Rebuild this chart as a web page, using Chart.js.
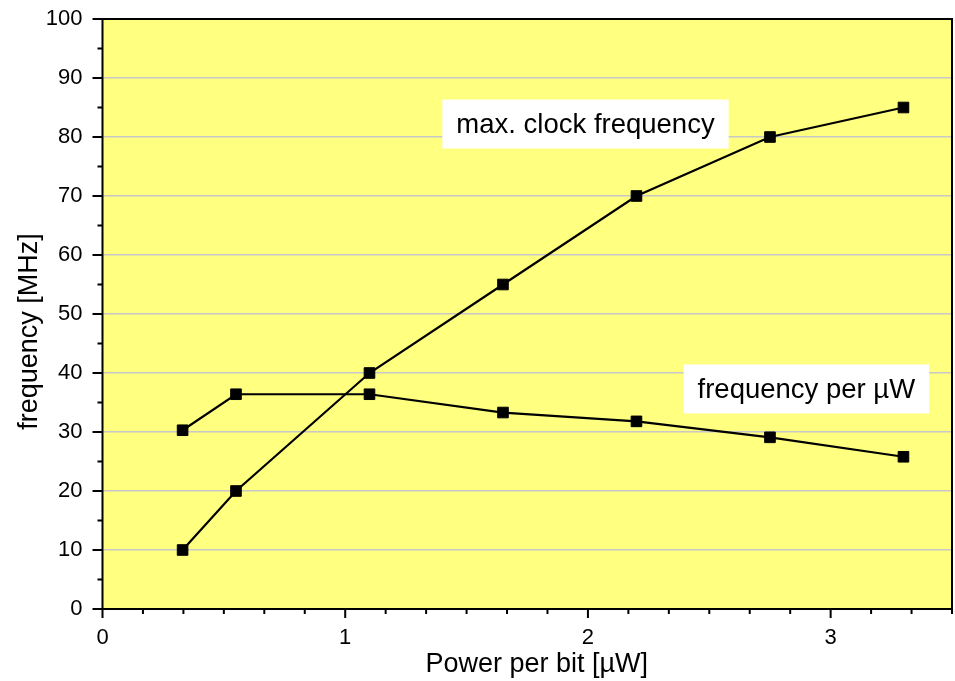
<!DOCTYPE html>
<html>
<head>
<meta charset="utf-8">
<script src="https://cdn.jsdelivr.net/npm/chart.js@4"></script>
<style>
  body { margin: 0; background: #fff; }
  #wrap { width: 955px; height: 681px; }
</style>
</head>
<body>
<div id="wrap"><canvas id="myChart" width="955" height="681"></canvas></div>
<script>
// data
const powerPerBit = [0.33, 0.55, 1.1, 1.65, 2.2, 2.75, 3.3];
const maxClockFreq = [10, 20, 40, 55, 70, 80, 85];
const freqPerMicroW = [30.3, 36.4, 36.4, 33.3, 31.8, 29.1, 25.8];
const xTickLabels = [0, 1, 2, 3];
const yTickLabels = [0, 10, 20, 30, 40, 50, 60, 70, 80, 90, 100];
const xTitle = 'Power per bit [\u00b5W]';
const yTitle = 'frequency [MHz]';

// text boxes, anchored at data coords
const boxLabels = [
  { text: 'max. clock frequency', x: 1.99, y: 82.2 },
  { text: 'frequency per \u00b5W', x: 2.9, y: 37.3 }
];

const FONT = '"Liberation Sans", Arial, sans-serif';

// yellow plot background, frame, ticks, titles and label boxes
const framePlugin = {
  id: 'frame',
  beforeDraw(chart) {
    const { ctx, chartArea: a } = chart;
    ctx.save();
    ctx.fillStyle = '#ffff80';
    ctx.fillRect(a.left, a.top, a.right - a.left, a.bottom - a.top);
    ctx.restore();
  },
  afterDatasetsDraw(chart) {
    const { ctx, scales } = chart;
    ctx.save();
    ctx.font = '27.5px ' + FONT;
    ctx.textAlign = 'center';
    ctx.textBaseline = 'middle';
    boxLabels.forEach(b => {
      const cx = scales.x.getPixelForValue(b.x);
      const cy = scales.y.getPixelForValue(b.y);
      const w = ctx.measureText(b.text).width + 28;
      const h = 49;
      ctx.fillStyle = '#fff';
      ctx.fillRect(cx - w / 2, cy - h / 2, w, h);
      ctx.fillStyle = '#000';
      ctx.fillText(b.text, cx, cy + 1);
    });
    ctx.restore();
  },
  afterDraw(chart) {
    const { ctx, chartArea: a, scales } = chart;
    ctx.save();
    ctx.strokeStyle = '#000';
    ctx.lineWidth = 2;
    ctx.strokeRect(a.left, a.top, a.right - a.left, a.bottom - a.top);
    ctx.beginPath();
    // y ticks, major every 10, minor every 5
    for (let v = 0; v <= 100; v += 5) {
      const py = scales.y.getPixelForValue(v);
      const len = v % 10 === 0 ? 10 : 5;
      ctx.moveTo(a.left - len, py);
      ctx.lineTo(a.left, py);
    }
    // x ticks, major every 1, minor every 1/6
    for (let i = 0; i <= 21; i++) {
      const px = scales.x.getPixelForValue(i / 6);
      const len = i % 6 === 0 ? 9 : 5;
      ctx.moveTo(px, a.bottom);
      ctx.lineTo(px, a.bottom + len);
    }
    ctx.stroke();

    // axis titles (sit a bit off-centre in the original)
    ctx.fillStyle = '#000';
    ctx.font = '27px ' + FONT;
    ctx.textAlign = 'center';
    ctx.textBaseline = 'middle';
    ctx.fillText(xTitle, (a.left + a.right) / 2 + 9.5, 665);
    ctx.translate(30, (a.top + a.bottom) / 2 + 17.5);
    ctx.rotate(-Math.PI / 2);
    ctx.fillText(yTitle, 0, 0);
    ctx.restore();
  }
};

const ctx = document.getElementById('myChart');

new Chart(ctx, {
  type: 'line',
  data: {
    datasets: [
      {
        label: 'max. clock frequency',
        data: powerPerBit.map((x, i) => ({ x: x, y: maxClockFreq[i] })),
        borderColor: '#000',
        backgroundColor: '#000',
        borderWidth: 2.2,
        pointStyle: 'rect',
        pointRadius: 7.5,
        pointBorderWidth: 1,
        tension: 0
      },
      {
        label: 'frequency per \u00b5W',
        data: powerPerBit.map((x, i) => ({ x: x, y: freqPerMicroW[i] })),
        borderColor: '#000',
        backgroundColor: '#000',
        borderWidth: 2.2,
        pointStyle: 'rect',
        pointRadius: 7.5,
        pointBorderWidth: 1,
        tension: 0
      }
    ]
  },
  options: {
    responsive: false,
    animation: false,
    layout: { autoPadding: false, padding: { top: 19, right: 3, left: 0, bottom: 0 } },
    plugins: {
      legend: { display: false },
      tooltip: { enabled: false }
    },
    scales: {
      x: {
        type: 'linear',
        min: 0,
        max: 3.5,
        afterBuildTicks: axis => { axis.ticks = xTickLabels.map(v => ({ value: v })); },
        afterFit: axis => { axis.height = 72; axis.paddingLeft = 0; axis.paddingRight = 0; },
        grid: { display: false, drawTicks: false },
        border: { display: false },
        ticks: {
          padding: 16,
          color: '#000',
          font: { family: FONT, size: 22 },
          callback: v => String(v)
        }
      },
      y: {
        min: 0,
        max: 100,
        afterBuildTicks: axis => { axis.ticks = yTickLabels.map(v => ({ value: v })); },
        afterFit: axis => { axis.width = 102.5; axis.paddingTop = 0; axis.paddingBottom = 0; },
        grid: {
          drawTicks: false,
          color: c => (c.tick && (c.tick.value === 0 || c.tick.value === 100)) ? 'rgba(0,0,0,0)' : '#c8c8c8',
          lineWidth: 1.5
        },
        border: { display: false },
        ticks: {
          padding: 20,
          color: '#000',
          font: { family: FONT, size: 22 }
        }
      }
    }
  },
  plugins: [framePlugin]
});
</script>
</body>
</html>
